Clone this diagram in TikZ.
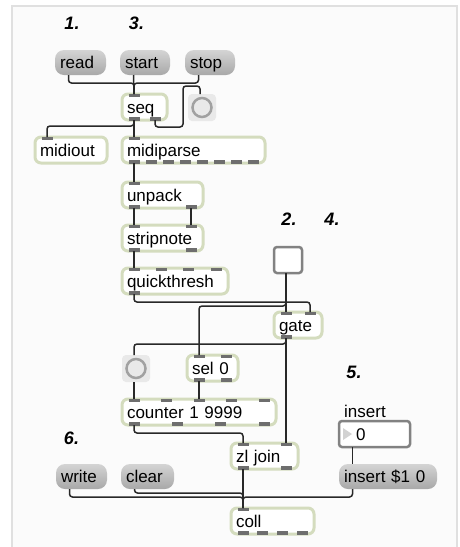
\documentclass[tikz,border=0pt]{standalone}
\usepackage{fontspec}
\setmainfont{Liberation Sans}
\usetikzlibrary{calc}

\definecolor{objedge}{RGB}{212,220,190}
\definecolor{portgray}{RGB}{110,110,110}
\definecolor{cordgray}{RGB}{40,40,40}
\definecolor{framegray}{RGB}{224,224,224}
\definecolor{panelfill}{RGB}{251,251,251}
\definecolor{uigray}{RGB}{130,130,130}
\definecolor{bangbg}{RGB}{233,233,233}
\definecolor{msgtop}{RGB}{212,212,212}
\definecolor{msgbot}{RGB}{168,168,168}

\tikzset{
  box/.style={anchor=north west, outer sep=0pt, inner xsep=5pt, inner ysep=0pt,
    text height=15pt, text depth=3pt, align=left, minimum height=26pt,
    font=\fontsize{17}{20}\selectfont},
  obj/.style={box, draw=objedge, line width=3pt, fill=white, rounded corners=6pt},
  msg/.style={box, minimum height=25pt, top color=msgtop, bottom color=msgbot,
    rounded corners=9pt},
  bangbox/.style={anchor=north west, outer sep=0pt, inner sep=0pt, minimum width=28pt,
    minimum height=27pt, fill=bangbg, rounded corners=4pt},
  togbox/.style={anchor=north west, outer sep=0pt, inner sep=0pt, minimum width=28pt,
    minimum height=26pt, draw=uigray, line width=2.5pt, fill=white, rounded corners=3pt},
  numbox/.style={box, draw=uigray, line width=2.5pt, fill=white, rounded corners=3pt},
  steplabel/.style={inner sep=0pt, font=\fontsize{18}{18}\selectfont\bfseries\itshape},
  cord/.style={draw=cordgray, line width=1.5pt, rounded corners=3pt},
  ring/.style={draw=uigray!75, line width=2.5pt}
}

% inlets along the top edge of an object box
\newcommand\inlets[2]{%
  \foreach \k in {1,...,#2}{%
    \path let \p1=(#1.north west), \p2=(#1.north east) in
      coordinate (#1-i\k) at ({\x1+12pt+(\k-1)*(\x2-\x1-24pt)/max(#2-1,1)}, \y1);
    \fill[portgray] ($(#1-i\k)+(-5.5,-0.5)$) rectangle ++(11,3.5);
  }}
% outlets along the bottom edge
\newcommand\outlets[2]{%
  \foreach \k in {1,...,#2}{%
    \path let \p1=(#1.south west), \p2=(#1.south east) in
      coordinate (#1-o\k) at ({\x1+12pt+(\k-1)*(\x2-\x1-24pt)/max(#2-1,1)}, \y1);
    \fill[portgray] ($(#1-o\k)+(-5.5,0.5)$) rectangle ++(11,-3.5);
  }}
% hidden ports of messages and ui objects
\newcommand\plainports[2]{%
  \coordinate (#1-i1) at ([xshift=#2pt]#1.north west);
  \coordinate (#1-o1) at ([xshift=#2pt]#1.south west);}

\begin{document}
\begin{tikzpicture}[x=1pt, y=-1pt]
  \useasboundingbox (0,0) rectangle (459,547);
  \fill[white] (0,0) rectangle (459,547);
  \fill[panelfill] (12,6) rectangle (457,547);
  \draw[framegray, line width=1.2pt] (12,547) -- (12,6) -- (457,6) -- (457,547);

  % step numbers
  \node[steplabel] (n1) at (72,23.5)    {1.};
  \node[steplabel] (n3) at (136.5,23.5) {3.};
  \node[steplabel] (n2) at (289,219)    {2.};
  \node[steplabel] (n4) at (332,219)    {4.};
  \node[steplabel] (n5) at (354,372)    {5.};
  \node[steplabel] (n6) at (71.5,438.5) {6.};

  % messages
  \node[msg, text width=41pt] (read)   at (55,50)   {read};
  \node[msg, text width=40pt] (start)  at (120,50)  {start};
  \node[msg, text width=40pt] (stop)   at (185,50)  {stop};
  \node[msg, text width=41pt] (write)  at (56,464)  {write};
  \node[msg, text width=43pt] (clear)  at (121,464) {clear};
  \node[msg, text width=88pt] (insmsg) at (339,464) {insert \$1 0};

  % objects
  \node[obj, text width=35pt]  (seq)         at (122,94)  {seq};
  \node[obj, text width=62pt]  (midiout)     at (35,137)  {midiout};
  \node[obj, text width=133pt] (midiparse)   at (122,137) {midiparse};
  \node[obj, text width=71pt]  (unpack)      at (122,182) {unpack};
  \node[obj, text width=71pt]  (stripnote)   at (122,225) {stripnote};
  \node[obj, text width=96pt]  (quickthresh) at (122,268) {quickthresh};
  \node[obj, text width=38pt]  (gate)        at (274,312) {gate};
  \node[obj, text width=41pt]  (sel)         at (187,355) {sel 0};
  \node[obj, text width=144pt] (counter)     at (122,399) {counter 1 9999};
  \node[obj, text width=57pt]  (zljoin)      at (231,443) {zl join};
  \node[obj, text width=73pt]  (coll)        at (231,508) {coll};

  % ui objects
  \node[bangbox] (bangA)  at (188,94)  {};
  \node[bangbox] (bangB)  at (122,355) {};
  \draw[ring] (bangA.center) circle (9.5);
  \draw[ring] (bangB.center) circle (9.5);
  \node[togbox] (toggle) at (274,247) {};
  \node[numbox, text width=61pt] (num) at (339,421) {\hspace*{12pt}0};
  \fill[gray!35] ($(num.west)+(4,-6)$) -- ++(0,12) -- ++(9,-6) -- cycle;
  \node[anchor=base west, inner sep=0pt, font=\fontsize{17}{20}\selectfont] (numlabel)
    at (344,417) {insert};

  % ports
  \plainports{read}{13.5}  \plainports{start}{13.5} \plainports{stop}{13.5}
  \plainports{write}{13.5} \plainports{clear}{13.5} \plainports{insmsg}{13.5}
  \plainports{bangA}{12}   \plainports{bangB}{12}   \plainports{toggle}{12}
  \plainports{num}{13.5}
  \inlets{seq}{1}         \outlets{seq}{2}
  \inlets{midiout}{1}
  \inlets{midiparse}{1}   \outlets{midiparse}{8}
  \inlets{unpack}{1}      \outlets{unpack}{2}
  \inlets{stripnote}{2}   \outlets{stripnote}{2}
  \inlets{quickthresh}{4} \outlets{quickthresh}{1}
  \inlets{gate}{2}        \outlets{gate}{1}
  \inlets{sel}{2}         \outlets{sel}{2}
  \inlets{counter}{5}     \outlets{counter}{4}
  \inlets{zljoin}{2}      \outlets{zljoin}{2}
  \inlets{coll}{1}        \outlets{coll}{4}

  % cords
  \draw[cord] (read-o1) -- ++(0,8) -| (seq-i1);
  \draw[cord] (stop-o1) -- ++(0,8) -| (seq-i1);
  \draw[cord] (start-o1) -- (seq-i1);
  \draw[cord] (seq-o2) -- ++(0,7) -| ($(bangA.north west)+(-5,-8)$) -| (bangA-i1);
  \draw[cord] (seq-o1) -- ++(0,6) -| (midiout-i1);
  \draw[cord] (seq-o1) -- (midiparse-i1);
  \draw[cord] (midiparse-o1) -- (unpack-i1);
  \draw[cord] (unpack-o1) -- (stripnote-i1);
  \draw[cord] (unpack-o2) -- (stripnote-i2);
  \draw[cord] (stripnote-o1) -- (quickthresh-i1);
  \draw[cord] (quickthresh-o1) -- ++(0,8) -| (gate-i2);
  \draw[cord] (toggle-o1) -- (gate-i1);
  \draw[cord] (toggle-o1) -- ($(toggle-o1 |- gate.north)+(0,-6)$) -| (sel-i1);
  \draw[cord] (gate-o1) -- ++(0,6) -| (bangB-i1);
  \draw[cord] (gate-o1) -- (zljoin-i2);
  \draw[cord] (bangB-o1) -- (counter-i1);
  \draw[cord] (sel-o1) -- (counter-i3);
  \draw[cord] (counter-o1) -- ++(0,8) -| (zljoin-i1);
  \draw[cord] (zljoin-o1) -- (coll-i1);
  \draw[cord] (write-o1) -- ++(0,8) -| (coll-i1);
  \draw[cord] (clear-o1) -- ++(0,4) -| (coll-i1);
  \draw[cord] (insmsg-o1) -- ++(0,8) -| (coll-i1);
  \draw[cord] (num-o1) -- (insmsg-i1);
\end{tikzpicture}
\end{document}
